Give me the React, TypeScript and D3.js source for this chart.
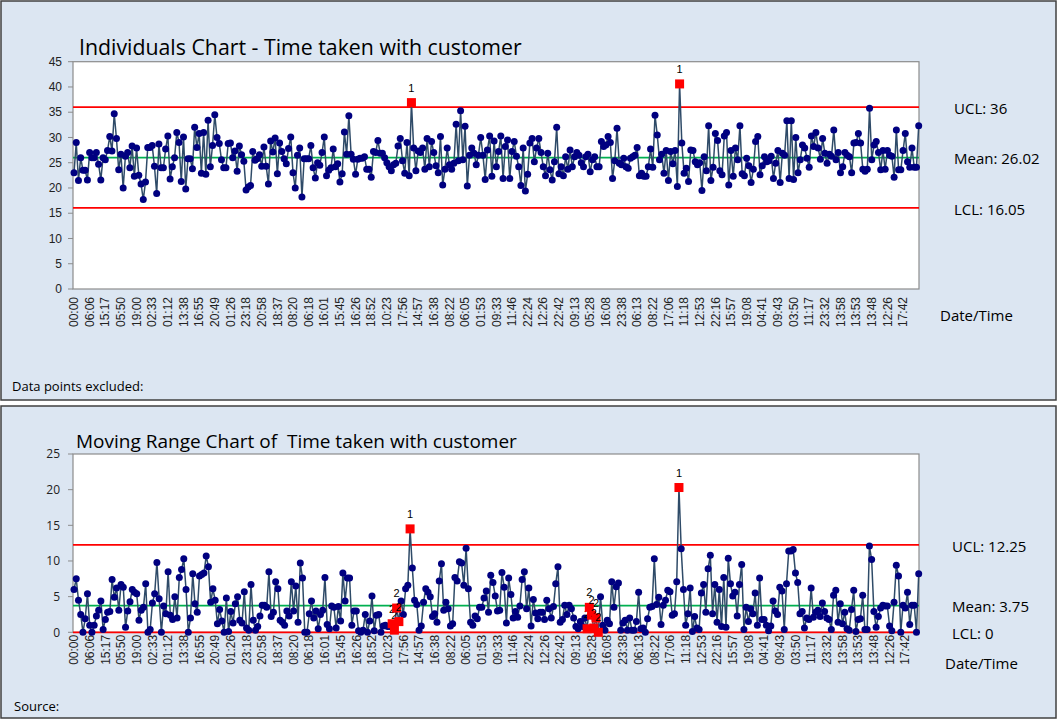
import * as d3 from 'd3';

// Individuals (XmR) chart of time taken with customer, plus its moving range chart.

const UI_FONT = "'Open Sans', 'Noto Sans', sans-serif";
const AXIS_FONT = "'Liberation Sans', Arial, sans-serif";

// one category label is shown every LABEL_EVERY points
const LABEL_EVERY = 7;
const timeLabels = [
  '00:00', '06:06', '15:17', '05:50', '19:00', '02:33', '01:12', '13:38', '16:55', '20:49',
  '01:26', '23:18', '20:58', '18:37', '08:20', '06:18', '16:01', '15:45', '16:26', '18:52',
  '10:23', '17:56', '14:57', '16:38', '08:22', '06:05', '01:53', '09:33', '11:46', '22:24',
  '12:26', '22:42', '09:13', '05:28', '16:08', '23:38', '06:13', '08:22', '17:06', '11:18',
  '12:53', '22:16', '15:57', '19:08', '04:41', '09:43', '03:50', '11:17', '23:32', '13:58',
  '13:53', '13:48', '12:26', '17:42',
];

// minutes spent with each customer
const timeTaken = [
  23.0, 29.0, 21.5, 26.0, 23.5, 23.5, 21.6, 27.0, 26.0, 26.0,
  27.0, 24.7, 21.6, 26.0, 25.6, 27.4, 30.2, 27.3, 34.7, 29.8,
  23.6, 26.7, 20.0, 26.3, 27.0, 24.0, 28.3, 22.3, 27.9, 22.5,
  20.8, 17.7, 21.2, 28.0, 28.0, 28.4, 24.3, 18.9, 28.7, 24.0,
  24.0, 27.7, 30.3, 21.8, 24.2, 26.0, 31.0, 29.0, 21.3, 30.1,
  19.8, 25.8, 25.8, 23.8, 32.0, 28.0, 30.8, 22.9, 31.0, 22.7,
  33.4, 24.2, 28.4, 34.5, 30.0, 28.8, 25.6, 24.0, 24.0, 28.8,
  28.9, 26.0, 27.3, 23.3, 28.3, 26.6, 25.3, 19.6, 20.2, 20.5,
  27.2, 25.5, 25.8, 26.6, 24.3, 28.1, 24.3, 20.8, 29.3, 27.1,
  29.9, 22.8, 28.9, 27.2, 25.8, 24.8, 27.8, 30.1, 23.0, 20.0,
  26.5, 27.9, 18.2, 25.8, 25.8, 25.8, 28.4, 24.0, 22.0, 25.0,
  24.5, 27.0, 30.1, 22.4, 23.5, 24.0, 27.7, 24.2, 24.8, 21.2,
  22.8, 31.1, 26.7, 34.3, 26.7, 25.7, 22.7, 25.7, 25.9, 25.9,
  26.2, 23.7, 23.7, 22.1, 27.2, 27.0, 29.4, 26.9, 26.9, 26.0,
  25.0, 24.2, 23.4, 24.6, 24.9, 28.3, 29.8, 25.4, 22.9, 29.0,
  22.4, 36.9, 27.9, 23.4, 27.3, 27.0, 27.9, 23.7, 29.8, 24.2,
  29.2, 27.0, 24.4, 23.0, 30.2, 20.6, 23.7, 27.9, 24.6, 23.7,
  24.9, 32.6, 25.4, 35.3, 25.6, 32.2, 20.4, 26.5, 27.9, 26.9,
  24.6, 26.5, 30.0, 26.5, 21.7, 27.5, 30.3, 22.3, 29.3, 24.2,
  27.2, 30.3, 21.9, 28.2, 29.5, 21.9, 27.2, 29.2, 26.3, 24.2,
  20.5, 27.9, 19.4, 22.7, 28.9, 29.8, 25.2, 27.9, 29.8, 27.0,
  24.2, 22.4, 26.9, 23.6, 21.6, 25.2, 32.0, 22.8, 24.2, 22.4,
  26.2, 23.7, 27.5, 24.2, 26.2, 27.0, 26.5, 25.0, 24.2, 26.2,
  26.7, 23.2, 25.6, 26.2, 24.2, 24.2, 29.2, 28.2, 28.5, 30.2,
  29.0, 21.9, 25.4, 31.8, 24.9, 24.6, 25.9, 24.2, 23.9, 25.9,
  26.2, 26.5, 28.0, 22.4, 22.9, 22.3, 22.3, 24.2, 27.7, 24.1,
  34.4, 30.5, 25.6, 26.7, 22.9, 27.4, 21.5, 27.2, 24.8, 27.4,
  20.3, 40.6, 28.9, 22.9, 23.9, 21.3, 27.5, 27.4, 25.2, 24.6,
  25.0, 19.5, 26.2, 23.4, 32.3, 21.5, 24.1, 30.8, 29.4, 23.4,
  22.6, 30.3, 31.0, 20.6, 27.4, 22.3, 27.9, 25.6, 32.3, 22.8,
  22.4, 25.9, 24.4, 21.1, 23.7, 29.2, 30.2, 22.6, 24.4, 26.2,
  25.2, 25.4, 26.3, 21.9, 24.9, 27.4, 21.1, 26.9, 26.5, 33.3,
  21.9, 33.3, 21.7, 30.0, 23.0, 25.6, 28.5, 27.9, 25.9, 24.1,
  30.3, 28.2, 31.0, 27.9, 25.7, 29.8, 26.9, 24.9, 26.7, 26.3,
  31.5, 25.6, 27.0, 23.0, 24.2, 27.0, 26.5, 26.2, 23.0, 28.9,
  29.0, 30.8, 28.9, 23.7, 23.3, 23.7, 35.8, 25.6, 28.5, 29.2,
  27.0, 23.6, 27.4, 23.7, 27.4, 26.5, 26.3, 22.1, 31.5, 23.6,
  23.6, 27.4, 30.8, 25.2, 24.1, 27.9, 24.1, 24.1, 32.3,
];

// control limits
const indLimits = { ucl: 36, mean: 26.02, lcl: 16.05 };
const mrLimits = { ucl: 12.25, mean: 3.75, lcl: 0 };

// moving ranges flagged by the run rule (rule 2)
const mrRunFlags = [142, 143, 144, 145, 229, 230, 231, 232, 233, 234];

const movingRange = timeTaken.slice(1).map((v, i) => Math.abs(v - timeTaken[i]));

const PLOT_LEFT = 73;
const PLOT_RIGHT = 919;
const FIRST_X = 74;
const LAST_X = 918.7;

type Limits = { ucl: number; mean: number; lcl: number };

interface PanelProps {
  box: [number, number, number, number];
  title: string;
  titleX: number;
  titleY: number;
  titleSize: number;
  values: number[];
  yMax: number;
  plotTop: number;
  plotBottom: number;
  limits: Limits;
  limitX: number;
  dateX: number;
  dateY: number;
  tickGap: number;
  yTickFont: string;
  yTickX: number;
  runFlags?: number[];
  footer: string;
  footerX: number;
  footerY: number;
}

function ControlPanel(p: PanelProps) {
  const [bx, by, bw, bh] = p.box;
  const n = p.values.length;
  const x = d3.scaleLinear().domain([0, n - 1]).range([FIRST_X, LAST_X]);
  const y = d3.scaleLinear().domain([0, p.yMax]).range([p.plotBottom, p.plotTop]);
  const line = d3.line<number>().x((_, i) => x(i)).y(d => y(d));
  const ticks = d3.range(0, p.yMax + 0.001, 5);
  const labelIdx = timeLabels.map((_, k) => k * LABEL_EVERY).filter(i => i < n);
  const runSet = new Set(p.runFlags ?? []);
  const limitRows = [
    { key: 'UCL', v: p.limits.ucl, color: '#ff0000' },
    { key: 'Mean', v: p.limits.mean, color: '#00b050' },
    { key: 'LCL', v: p.limits.lcl, color: '#ff0000' },
  ];

  return (
    <g>
      <rect x={bx} y={by} width={bw} height={bh} fill="#dce6f2" stroke="#404040" strokeWidth={1.5} />
      <text x={p.titleX} y={p.titleY} fontFamily={UI_FONT} fontSize={p.titleSize} fontWeight={500} fill="#000" style={{ whiteSpace: 'pre' }}>
        {p.title}
      </text>

      {/* plot area */}
      <rect x={PLOT_LEFT} y={p.plotTop} width={PLOT_RIGHT - PLOT_LEFT} height={p.plotBottom - p.plotTop} fill="#fff" stroke="#8c8c8c" strokeWidth={1.2} />
      {ticks.map(t => (
        <g key={t}>
          <line x1={PLOT_LEFT - 5} x2={PLOT_LEFT} y1={y(t)} y2={y(t)} stroke="#8c8c8c" />
          <text x={p.yTickX} y={y(t)} dy="0.35em" textAnchor="end" fontFamily={p.yTickFont} fontSize={12} fill="#222">
            {t}
          </text>
        </g>
      ))}
      {labelIdx.map((i, k) => (
        <text
          key={i}
          transform={`translate(${x(i)},${p.plotBottom + p.tickGap}) rotate(-90)`}
          dy="0.35em"
          textAnchor="end"
          fontFamily={AXIS_FONT}
          fontSize={12}
          fill="#222"
        >
          {timeLabels[k]}
        </text>
      ))}

      {/* control limits */}
      {limitRows.map(r => (
        <g key={r.key}>
          <line x1={PLOT_LEFT} x2={PLOT_RIGHT} y1={y(r.v)} y2={y(r.v)} stroke={r.color} strokeWidth={1.7} />
          <text x={p.limitX} y={y(r.v) + 1.5} dy="0.35em" fontFamily={UI_FONT} fontSize={15} fontWeight={500} fill="#000">
            {`${r.key}: ${r.v}`}
          </text>
        </g>
      ))}

      {/* series */}
      <path d={line(p.values) ?? ''} fill="none" stroke="#2f4b68" strokeWidth={1.5} />
      {p.values.map((v, i) =>
        v > p.limits.ucl || runSet.has(i) ? null : <circle key={i} cx={x(i)} cy={y(v)} r={3.5} fill="#000080" />
      )}
      {p.values.map((v, i) => {
        const rule = v > p.limits.ucl ? '1' : runSet.has(i) ? '2' : null;
        if (!rule) return null;
        return (
          <g key={`f${i}`}>
            <rect x={x(i) - 4.5} y={y(v) - 4.5} width={9} height={9} fill="#ff0000" />
            <text x={x(i)} y={y(v) - 11} textAnchor="middle" fontFamily={AXIS_FONT} fontSize={11} fill="#000">
              {rule}
            </text>
          </g>
        );
      })}

      <text x={p.dateX} y={p.dateY} dy="0.35em" fontFamily={UI_FONT} fontSize={15} fontWeight={500} fill="#000">
        Date/Time
      </text>
      <text x={p.footerX} y={p.footerY} dy="0.35em" fontFamily={UI_FONT} fontSize={13} fill="#000">
        {p.footer}
      </text>
    </g>
  );
}

export default function App() {
  return (
    <svg width={1059} height={720} style={{ position: 'absolute', left: 0, top: 0, background: '#fff' }}>
      <ControlPanel
        box={[1, 1, 1055, 399]}
        title="Individuals Chart - Time taken with customer"
        titleX={79}
        titleY={55}
        titleSize={21.3}
        values={timeTaken}
        yMax={45}
        plotTop={61.7}
        plotBottom={289}
        limits={indLimits}
        limitX={954}
        dateX={940}
        dateY={316}
        tickGap={8}
        yTickFont={AXIS_FONT}
        yTickX={62}
        footer="Data points excluded:"
        footerX={12}
        footerY={386}
      />
      <ControlPanel
        box={[1, 406, 1055, 312]}
        title="Moving Range Chart of  Time taken with customer"
        titleX={76}
        titleY={448}
        titleSize={19}
        values={movingRange}
        yMax={25}
        plotTop={454}
        plotBottom={632.3}
        limits={mrLimits}
        limitX={952}
        dateX={945}
        dateY={664}
        tickGap={2.5}
        yTickFont={UI_FONT}
        yTickX={60}
        runFlags={mrRunFlags}
        footer="Source:"
        footerX={14}
        footerY={706}
      />
    </svg>
  );
}
